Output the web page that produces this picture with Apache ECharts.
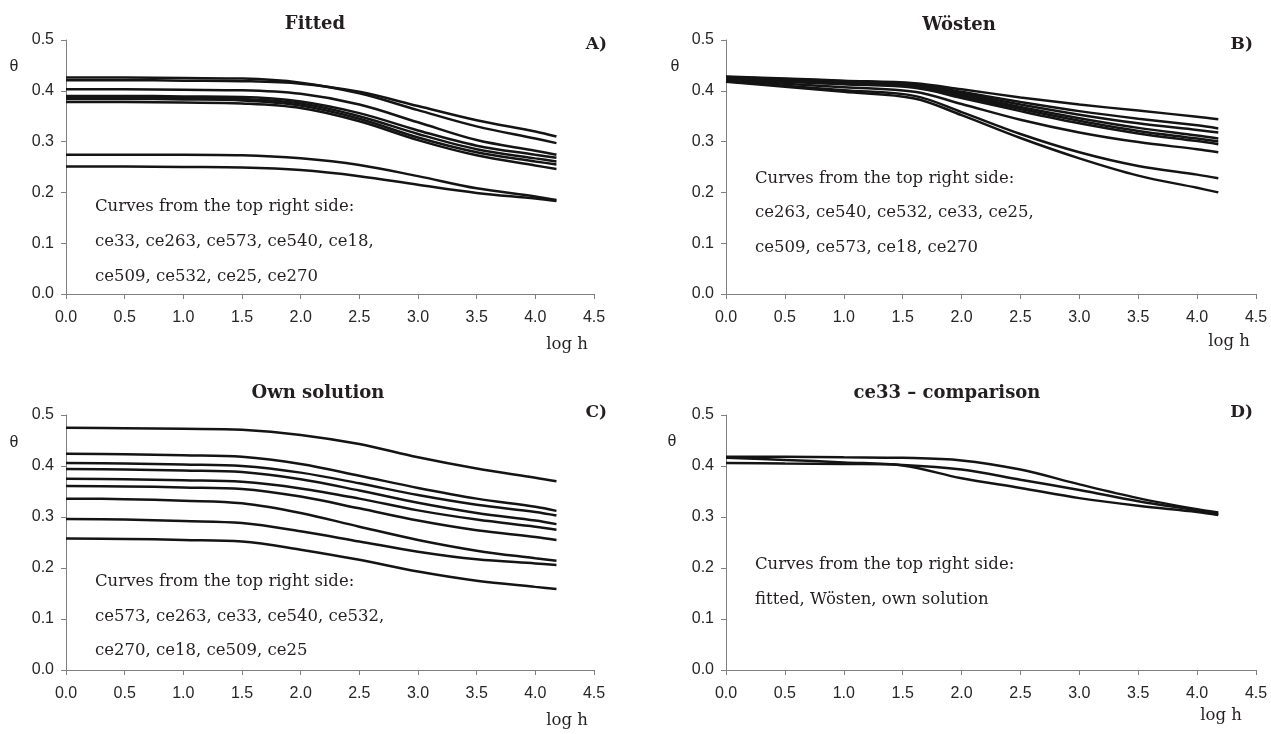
<!DOCTYPE html>
<html>
<head>
<meta charset="utf-8">
<script src="https://cdn.jsdelivr.net/npm/echarts@6/dist/echarts.min.js"></script>
<style>html,body{margin:0;padding:0;background:#fff;}#c{width:1271px;height:734px;}</style>
</head>
<body>
<div id="c"></div>
<script>
// ---- data ----
const xTicks = ['0.0','0.5','1.0','1.5','2.0','2.5','3.0','3.5','4.0','4.5'];
const yTicks = ['0.0','0.1','0.2','0.3','0.4','0.5'];
const logH = [0, 0.5, 1.0, 1.5, 2.0, 2.5, 3.0, 3.5, 4.0, 4.18];
const logHW = [0, 0.5, 1.0, 1.6, 2.0, 2.5, 3.0, 3.5, 4.0, 4.18];

// A) Fitted
const fitted_ce33  = [0.421,0.421,0.420,0.419,0.414,0.398,0.370,0.342,0.320,0.310];
const fitted_ce263 = [0.426,0.426,0.425,0.424,0.416,0.395,0.362,0.330,0.306,0.297];
const fitted_ce573 = [0.403,0.403,0.402,0.401,0.394,0.373,0.338,0.303,0.282,0.274];
const fitted_ce540 = [0.390,0.390,0.389,0.388,0.379,0.356,0.322,0.292,0.274,0.268];
const fitted_ce18  = [0.387,0.387,0.386,0.384,0.375,0.350,0.315,0.285,0.267,0.261];
const fitted_ce509 = [0.384,0.384,0.383,0.381,0.371,0.345,0.308,0.279,0.261,0.255];
const fitted_ce532 = [0.378,0.378,0.377,0.375,0.366,0.340,0.303,0.273,0.253,0.246];
const fitted_ce25  = [0.274,0.274,0.274,0.273,0.267,0.254,0.232,0.208,0.192,0.185];
const fitted_ce270 = [0.251,0.251,0.250,0.249,0.244,0.232,0.215,0.199,0.188,0.183];

// B) Wösten
const wosten_ce263 = [0.428,0.424,0.420,0.415,0.403,0.387,0.373,0.361,0.349,0.344];
const wosten_ce540 = [0.427,0.423,0.419,0.413,0.398,0.378,0.360,0.345,0.332,0.326];
const wosten_ce532 = [0.426,0.422,0.418,0.412,0.395,0.373,0.353,0.336,0.323,0.318];
const wosten_ce33  = [0.425,0.421,0.416,0.410,0.392,0.368,0.346,0.327,0.312,0.306];
const wosten_ce25  = [0.424,0.419,0.414,0.408,0.389,0.364,0.341,0.321,0.306,0.300];
const wosten_ce509 = [0.423,0.418,0.413,0.406,0.386,0.360,0.336,0.316,0.301,0.295];
const wosten_ce573 = [0.421,0.414,0.407,0.398,0.374,0.343,0.318,0.299,0.285,0.279];
const wosten_ce18  = [0.419,0.410,0.401,0.390,0.358,0.315,0.279,0.252,0.235,0.228];
const wosten_ce270 = [0.418,0.408,0.398,0.385,0.352,0.307,0.267,0.233,0.209,0.200];

// C) Own solution
const own_ce573 = [0.475,0.474,0.473,0.471,0.461,0.443,0.417,0.395,0.377,0.370];
const own_ce263 = [0.424,0.423,0.421,0.418,0.404,0.381,0.357,0.336,0.320,0.312];
const own_ce33  = [0.406,0.405,0.403,0.400,0.387,0.366,0.343,0.324,0.310,0.303];
const own_ce540 = [0.394,0.393,0.391,0.388,0.374,0.352,0.328,0.308,0.293,0.286];
const own_ce532 = [0.375,0.374,0.372,0.369,0.356,0.336,0.313,0.295,0.281,0.275];
const own_ce270 = [0.361,0.360,0.358,0.355,0.340,0.317,0.293,0.274,0.261,0.255];
const own_ce18  = [0.336,0.335,0.332,0.327,0.308,0.281,0.255,0.234,0.219,0.214];
const own_ce509 = [0.296,0.295,0.292,0.288,0.272,0.252,0.232,0.217,0.209,0.206];
const own_ce25  = [0.258,0.257,0.255,0.252,0.236,0.216,0.193,0.175,0.163,0.159];

// D) ce33 comparison
const cmp_fitted = [0.418,0.418,0.417,0.416,0.411,0.393,0.364,0.337,0.315,0.309];
const cmp_wosten = [0.416,0.412,0.407,0.401,0.376,0.357,0.337,0.322,0.310,0.304];
const cmp_own    = [0.406,0.405,0.404,0.402,0.393,0.373,0.353,0.331,0.313,0.306];

const panelA = [fitted_ce33,fitted_ce263,fitted_ce573,fitted_ce540,fitted_ce18,fitted_ce509,fitted_ce532,fitted_ce25,fitted_ce270];
const panelB = [wosten_ce263,wosten_ce540,wosten_ce532,wosten_ce33,wosten_ce25,wosten_ce509,wosten_ce573,wosten_ce18,wosten_ce270];
const panelC = [own_ce573,own_ce263,own_ce33,own_ce540,own_ce532,own_ce270,own_ce18,own_ce509,own_ce25];
const panelD = [cmp_fitted,cmp_wosten,cmp_own];

// ---- chart ----
const grids = [
  {left:66, top:40, width:528, height:254},
  {left:726, top:40, width:530, height:254},
  {left:66, top:415, width:528, height:255},
  {left:726, top:415, width:530, height:255}
];
const axisCol = '#7f7f7f';
const labelCol = '#262626';
function xAx(i){return {gridIndex:i,type:'value',min:0,max:4.5,interval:0.5,
  axisLine:{show:true,lineStyle:{color:axisCol,width:1}},
  axisTick:{show:true,inside:false,length:5,lineStyle:{color:axisCol}},
  splitLine:{show:false},
  axisLabel:{margin:16,fontFamily:'Liberation Sans',fontSize:16,color:labelCol,
    formatter:v=>xTicks[Math.round(v/0.5)]}};}
function yAx(i){return {gridIndex:i,type:'value',min:0,max:0.5,interval:0.1,
  axisLine:{show:true,lineStyle:{color:axisCol,width:1}},
  axisTick:{show:true,inside:false,length:5,lineStyle:{color:axisCol}},
  splitLine:{show:false},
  axisLabel:{margin:12,fontFamily:'Liberation Sans',fontSize:16,color:labelCol,
    formatter:v=>yTicks[Math.round(v/0.1)]}};}

const series = [];
function addPanel(idx, curves, xs){
  curves.forEach(c=>{
    series.push({type:'line',xAxisIndex:idx,yAxisIndex:idx,showSymbol:false,smooth:0.35,
      silent:true,lineStyle:{color:'#141414',width:2.5},
      data:xs.map((x,j)=>[x,c[j]])});
  });
}
addPanel(0,panelA,logH);
addPanel(1,panelB,logHW);
addPanel(2,panelC,logH);
addPanel(3,panelD,logH);

const serif = 'DejaVu Serif';
const txtCol = '#231f20';
function T(x,y,text,opt){return Object.assign({type:'text',x:x,y:y,style:Object.assign({text:text,fill:txtCol,
  font:'16.5px "'+serif+'"',textAlign:'left',textVerticalAlign:'middle'},opt||{})});}
const bold = 'bold 18px "'+serif+'"';
const g = [
  T(315,24,'Fitted',{font:bold,textAlign:'center'}),
  T(959,25,'Wösten',{font:bold,textAlign:'center'}),
  T(318,393,'Own solution',{font:bold,textAlign:'center'}),
  T(947,393,'ce33 – comparison',{font:bold,textAlign:'center'}),
  T(607,45,'A)',{font:'bold 17px "'+serif+'"',textAlign:'right'}),
  T(1253,45,'B)',{font:'bold 17px "'+serif+'"',textAlign:'right'}),
  T(607,413,'C)',{font:'bold 17px "'+serif+'"',textAlign:'right'}),
  T(1253,413,'D)',{font:'bold 17px "'+serif+'"',textAlign:'right'}),
  T(14,67,'θ',{font:'16px "Liberation Sans"',textAlign:'center',fill:labelCol}),
  T(675,67,'θ',{font:'16px "Liberation Sans"',textAlign:'center',fill:labelCol}),
  T(14,443,'θ',{font:'16px "Liberation Sans"',textAlign:'center',fill:labelCol}),
  T(672,442,'θ',{font:'16px "Liberation Sans"',textAlign:'center',fill:labelCol}),
  T(567,345,'log h',{textAlign:'center'}),
  T(1229,342,'log h',{textAlign:'center'}),
  T(567,721,'log h',{textAlign:'center'}),
  T(1221,716,'log h',{textAlign:'center'}),
  T(95,207,'Curves from the top right side:'),
  T(95,242,'ce33, ce263, ce573, ce540, ce18,'),
  T(95,277,'ce509, ce532, ce25, ce270'),
  T(755,179,'Curves from the top right side:'),
  T(755,213,'ce263, ce540, ce532, ce33, ce25,'),
  T(755,248,'ce509, ce573, ce18, ce270'),
  T(95,582,'Curves from the top right side:'),
  T(95,617,'ce573, ce263, ce33, ce540, ce532,'),
  T(95,651,'ce270, ce18, ce509, ce25'),
  T(755,565,'Curves from the top right side:'),
  T(755,600,'fitted, Wösten, own solution')
];

const chart = echarts.init(document.getElementById('c'),null,{renderer:'canvas'});
chart.setOption({
  animation:false,
  backgroundColor:'#fff',
  grid:grids,
  xAxis:[xAx(0),xAx(1),xAx(2),xAx(3)],
  yAxis:[yAx(0),yAx(1),yAx(2),yAx(3)],
  series:series,
  graphic:g
});
</script>
</body>
</html>
